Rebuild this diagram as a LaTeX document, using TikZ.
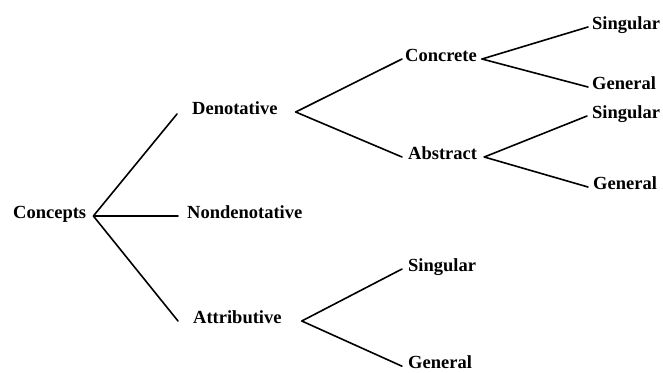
\documentclass[tikz,border=0pt]{standalone}
\usepackage{fontspec}
\setmainfont{Liberation Serif}
\begin{document}
\begin{tikzpicture}[x=1pt,y=-1pt,
  lbl/.style={anchor=base west,inner sep=0pt,font=\fontsize{18.5}{20}\selectfont\bfseries},
  conn/.style={line width=1.6pt,line cap=round}]
\useasboundingbox (0,0) rectangle (663,372);
\node[lbl] (concepts) at (13,218.3) {Concepts};
\node[lbl] (deno) at (192,114.3) {Denotative};
\node[lbl] (nondeno) at (187,218.3) {Nondenotative};
\node[lbl] (attr) at (193,323.3) {Attributive};
\node[lbl] (concrete) at (405,61.3) {Concrete};
\node[lbl] (abstract) at (408,159.3) {Abstract};
\node[lbl] (sing1) at (592,29.3) {Singular};
\node[lbl] (gen1) at (592,89.3) {General};
\node[lbl] (sing2) at (592,118.3) {Singular};
\node[lbl] (gen2) at (593,189.3) {General};
\node[lbl] (sing3) at (408,271.3) {Singular};
\node[lbl] (gen3) at (408,368.5) {General};
% level 1
\draw[conn] ([xshift=7pt]concepts.mid east) -- ([xshift=-15pt,yshift=-2pt]deno.mid west);
\draw[conn] ([xshift=9pt]concepts.mid east) -- ([xshift=-9pt]nondeno.mid west);
\draw[conn] ([xshift=7pt]concepts.mid east) -- ([xshift=-15pt]attr.mid west);
% level 2
\draw[conn] ([xshift=18pt]deno.mid east) -- ([xshift=-3pt]concrete.mid west);
\draw[conn] ([xshift=18pt]deno.mid east) -- ([xshift=-6pt]abstract.mid west);
\draw[conn] ([xshift=20pt]attr.mid east) -- ([xshift=-6pt]sing3.mid west);
\draw[conn] ([xshift=20pt]attr.mid east) -- ([xshift=-6pt]gen3.mid west);
% level 3
\draw[conn] ([xshift=5pt]concrete.mid east) -- ([xshift=-4pt]sing1.mid west);
\draw[conn] ([xshift=5pt]concrete.mid east) -- ([xshift=-4pt]gen1.mid west);
\draw[conn] ([xshift=7pt]abstract.mid east) -- ([xshift=-5pt]sing2.mid west);
\draw[conn] ([xshift=7pt]abstract.mid east) -- ([xshift=-5pt]gen2.mid west);
\end{tikzpicture}
\end{document}
